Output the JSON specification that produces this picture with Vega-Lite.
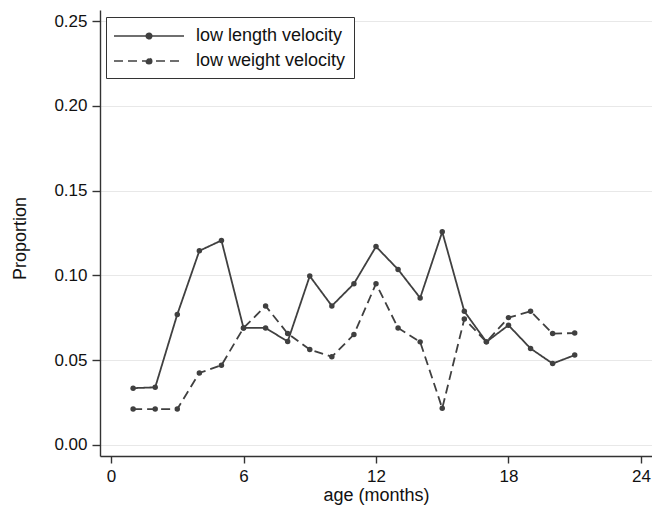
{
  "$schema": "https://vega.github.io/schema/vega-lite/v6.json",
  "width": 552,
  "height": 446,
  "autosize": {"type": "none"},
  "padding": {"left": 100, "top": 10, "right": 0, "bottom": 50},
  "background": "white",
  "config": {
    "view": {"stroke": null},
    "font": "Liberation Sans",
    "axis": {
      "labelFont": "Liberation Sans",
      "titleFont": "Liberation Sans",
      "labelFontSize": 17,
      "titleFontSize": 18,
      "titleFontWeight": "normal",
      "labelColor": "#111",
      "titleColor": "#111",
      "domainColor": "#333",
      "domainWidth": 1.4,
      "tickColor": "#333",
      "tickWidth": 1.4
    }
  },
  "data": {
    "values": [
      {"series": "low length velocity", "month": 1, "value": 0.0335},
      {"series": "low length velocity", "month": 2, "value": 0.034},
      {"series": "low length velocity", "month": 3, "value": 0.077},
      {"series": "low length velocity", "month": 4, "value": 0.1145},
      {"series": "low length velocity", "month": 5, "value": 0.1206},
      {"series": "low length velocity", "month": 6, "value": 0.069},
      {"series": "low length velocity", "month": 7, "value": 0.069},
      {"series": "low length velocity", "month": 8, "value": 0.061},
      {"series": "low length velocity", "month": 9, "value": 0.0996},
      {"series": "low length velocity", "month": 10, "value": 0.082},
      {"series": "low length velocity", "month": 11, "value": 0.0951},
      {"series": "low length velocity", "month": 12, "value": 0.117},
      {"series": "low length velocity", "month": 13, "value": 0.1035},
      {"series": "low length velocity", "month": 14, "value": 0.0867},
      {"series": "low length velocity", "month": 15, "value": 0.1257},
      {"series": "low length velocity", "month": 16, "value": 0.0788},
      {"series": "low length velocity", "month": 17, "value": 0.0608},
      {"series": "low length velocity", "month": 18, "value": 0.0706},
      {"series": "low length velocity", "month": 19, "value": 0.0569},
      {"series": "low length velocity", "month": 20, "value": 0.048},
      {"series": "low length velocity", "month": 21, "value": 0.053},
      {"series": "low weight velocity", "month": 1, "value": 0.0212},
      {"series": "low weight velocity", "month": 2, "value": 0.0212},
      {"series": "low weight velocity", "month": 3, "value": 0.0212},
      {"series": "low weight velocity", "month": 4, "value": 0.0425},
      {"series": "low weight velocity", "month": 5, "value": 0.047},
      {"series": "low weight velocity", "month": 6, "value": 0.069},
      {"series": "low weight velocity", "month": 7, "value": 0.082},
      {"series": "low weight velocity", "month": 8, "value": 0.0657},
      {"series": "low weight velocity", "month": 9, "value": 0.0563},
      {"series": "low weight velocity", "month": 10, "value": 0.052},
      {"series": "low weight velocity", "month": 11, "value": 0.0651},
      {"series": "low weight velocity", "month": 12, "value": 0.0951},
      {"series": "low weight velocity", "month": 13, "value": 0.069},
      {"series": "low weight velocity", "month": 14, "value": 0.0608},
      {"series": "low weight velocity", "month": 15, "value": 0.0216},
      {"series": "low weight velocity", "month": 16, "value": 0.0743},
      {"series": "low weight velocity", "month": 17, "value": 0.0608},
      {"series": "low weight velocity", "month": 18, "value": 0.0751},
      {"series": "low weight velocity", "month": 19, "value": 0.0788},
      {"series": "low weight velocity", "month": 20, "value": 0.0657},
      {"series": "low weight velocity", "month": 21, "value": 0.066}
    ]
  },
  "encoding": {
    "x": {
      "field": "month",
      "type": "quantitative",
      "scale": {"domain": [-0.5, 24.5], "nice": false, "zero": false},
      "axis": {
        "title": "age (months)",
        "values": [0, 6, 12, 18, 24],
        "grid": false,
        "tickSize": 7,
        "labelPadding": 5,
        "titleY": 44,
        "titleBaseline": "alphabetic"
      }
    },
    "y": {
      "field": "value",
      "type": "quantitative",
      "scale": {"domain": [-0.0065, 0.2565], "nice": false, "zero": false},
      "axis": {
        "title": "Proportion",
        "values": [0, 0.05, 0.1, 0.15, 0.2, 0.25],
        "format": ".2f",
        "grid": true,
        "gridColor": "#e8e8e8",
        "gridWidth": 1.2,
        "tickSize": 8,
        "labelPadding": 5,
        "titleX": -75,
        "titleY": 228,
        "titleBaseline": "alphabetic"
      }
    }
  },
  "layer": [
    {
      "mark": {"type": "line", "color": "#404040", "strokeWidth": 1.8},
      "encoding": {
        "strokeDash": {
          "field": "series",
          "type": "nominal",
          "scale": {
            "domain": ["low length velocity", "low weight velocity"],
            "range": [[1, 0], [9, 5]]
          },
          "legend": {
            "orient": "none",
            "legendX": 6,
            "legendY": 7,
            "title": null,
            "symbolType": "M-3.5,0H3.5M0.28,0A0.28,0.28,0,1,1,-0.28,0A0.28,0.28,0,1,1,0.28,0Z",
            "symbolSize": 400,
            "symbolOffset": 24,
            "labelOffset": 36,
            "symbolStrokeColor": "#404040",
            "symbolFillColor": "#404040",
            "symbolStrokeWidth": 1.5,
            "labelFont": "Liberation Sans",
            "labelFontSize": 18,
            "labelColor": "#111",
            "labelLimit": 0,
            "padding": 8,
            "rowPadding": 5,
            "strokeColor": "#333",
            "fillColor": "white",
            "encode": {"symbols": {"update": {"fill": {"value": "#404040"}, "stroke": {"value": "#404040"}}}}
          }
        }
      }
    },
    {
      "mark": {"type": "point", "filled": true, "color": "#404040", "size": 30, "opacity": 1},
      "encoding": {"detail": {"field": "series", "type": "nominal"}}
    }
  ]
}
